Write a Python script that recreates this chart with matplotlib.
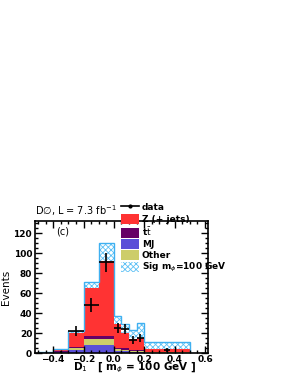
import numpy as np
import matplotlib.pyplot as plt
from matplotlib.ticker import MultipleLocator

plt.rcParams['hatch.linewidth'] = 0.6

edges = np.array([-0.5, -0.4, -0.3, -0.2, -0.1, 0.0, 0.05, 0.1, 0.15, 0.2, 0.5])
mj    = np.array([0.0, 1.0, 3.0, 8.0, 8.0, 2.0, 2.0, 1.0, 1.0, 0.5])
other = np.array([0.0, 0.5, 2.5, 6.0, 6.0, 2.0, 1.5, 1.0, 1.0, 0.3])
ttbar = np.array([0.0, 1.0, 1.0, 3.0, 3.0, 1.5, 1.5, 1.0, 1.0, 0.5])
zjets = np.array([0.6, 1.5, 13.5, 48.0, 75.0, 23.5, 15.0, 11.0, 12.0, 2.7])
sig   = np.array([0.0, 0.3, 2.0, 6.0, 18.0, 8.0, 9.0, 9.0, 15.0, 7.0])

data_x   = np.array([-0.35, -0.25, -0.15, -0.05, 0.025, 0.075, 0.125, 0.175, 0.35])
data_y   = np.array([1, 22, 48, 91, 25, 24, 13, 15, 3])
data_err = np.sqrt(data_y)
data_xerr = np.array([0.0, 0.05, 0.05, 0.05, 0.025, 0.025, 0.025, 0.025, 0.02])

fig = plt.figure(figsize=(2.91, 3.76), dpi=100)
ax = fig.add_axes([0.12, 0.061, 0.595, 0.351])

w = np.diff(edges)
x0 = edges[:-1]
bottom = np.zeros(len(w))
ax.bar(x0, mj, w, bottom=bottom, align='edge', color='#5a4fd8', lw=0)
bottom += mj
ax.bar(x0, other, w, bottom=bottom, align='edge', color='#cdcd6a', lw=0)
bottom += other
ax.bar(x0, ttbar, w, bottom=bottom, align='edge', color='#660066', lw=0)
bottom += ttbar
ax.bar(x0, zjets, w, bottom=bottom, align='edge', color='#ff3333', lw=0)
bottom += zjets
ax.bar(x0, sig, w, bottom=bottom, align='edge', facecolor='white',
       edgecolor='#5cc0f5', hatch='xxxxxx', lw=0)
ax.stairs(bottom + sig, edges, color='#3fb0f0', lw=1)

ax.errorbar(data_x, data_y, yerr=data_err, xerr=data_xerr, fmt='none',
            ecolor='black', elinewidth=1.2)

# legend proxies
ax.plot([], [], color='black', marker='.', ms=4, lw=1.2, label='data')
ax.bar([0], [0], color='#ff3333', label='Z (+ jets)')
ax.bar([0], [0], color='#660066', label=r't$\bar{\rm t}$')
ax.bar([0], [0], color='#5a4fd8', label='MJ')
ax.bar([0], [0], color='#cdcd6a', label='Other')
ax.bar([0], [0], facecolor='white', edgecolor='#5cc0f5', hatch='xxxxxx', lw=0,
       label=r'Sig m$_\phi$=100 GeV')
leg = fig.legend(loc='upper left', bbox_to_anchor=(0.415, 0.462), frameon=False,
                 handlelength=2.0, handleheight=1.35, handletextpad=0.35,
                 labelspacing=0.12, borderaxespad=0, borderpad=0,
                 prop={'weight': 'bold', 'size': 6.5})

ax.set_xlim(-0.52, 0.62)
ax.set_ylim(0, 132)
ax.xaxis.set_major_locator(MultipleLocator(0.2))
ax.xaxis.set_minor_locator(MultipleLocator(0.05))
ax.yaxis.set_major_locator(MultipleLocator(20))
ax.yaxis.set_minor_locator(MultipleLocator(5))
ax.tick_params(which='both', direction='in', top=True, right=True, labelsize=6.5, pad=2)
ax.tick_params(axis='x', pad=1.5)
ax.tick_params(which='major', length=5, width=1)
ax.tick_params(which='minor', length=2.5, width=1)
for lab in ax.get_xticklabels() + ax.get_yticklabels():
    lab.set_fontweight('bold')
for s in ax.spines.values():
    s.set_linewidth(1.2)

fig.text(0.25, 0.003, r'D$_{\rm 1}$   [ m$_\phi$ = 100 GeV ]', fontsize=7.5,
         fontweight='bold', va='bottom')
ax.set_ylabel('Events', fontsize=7.5, labelpad=2)
ax.text(0.0, 1.02, r'D$\varnothing$, L = 7.3 fb$^{-1}$', transform=ax.transAxes,
        fontsize=7, va='bottom')
ax.text(0.12, 0.9, '(c)', transform=ax.transAxes, fontsize=7)

fig.savefig('out.png', dpi=100)
